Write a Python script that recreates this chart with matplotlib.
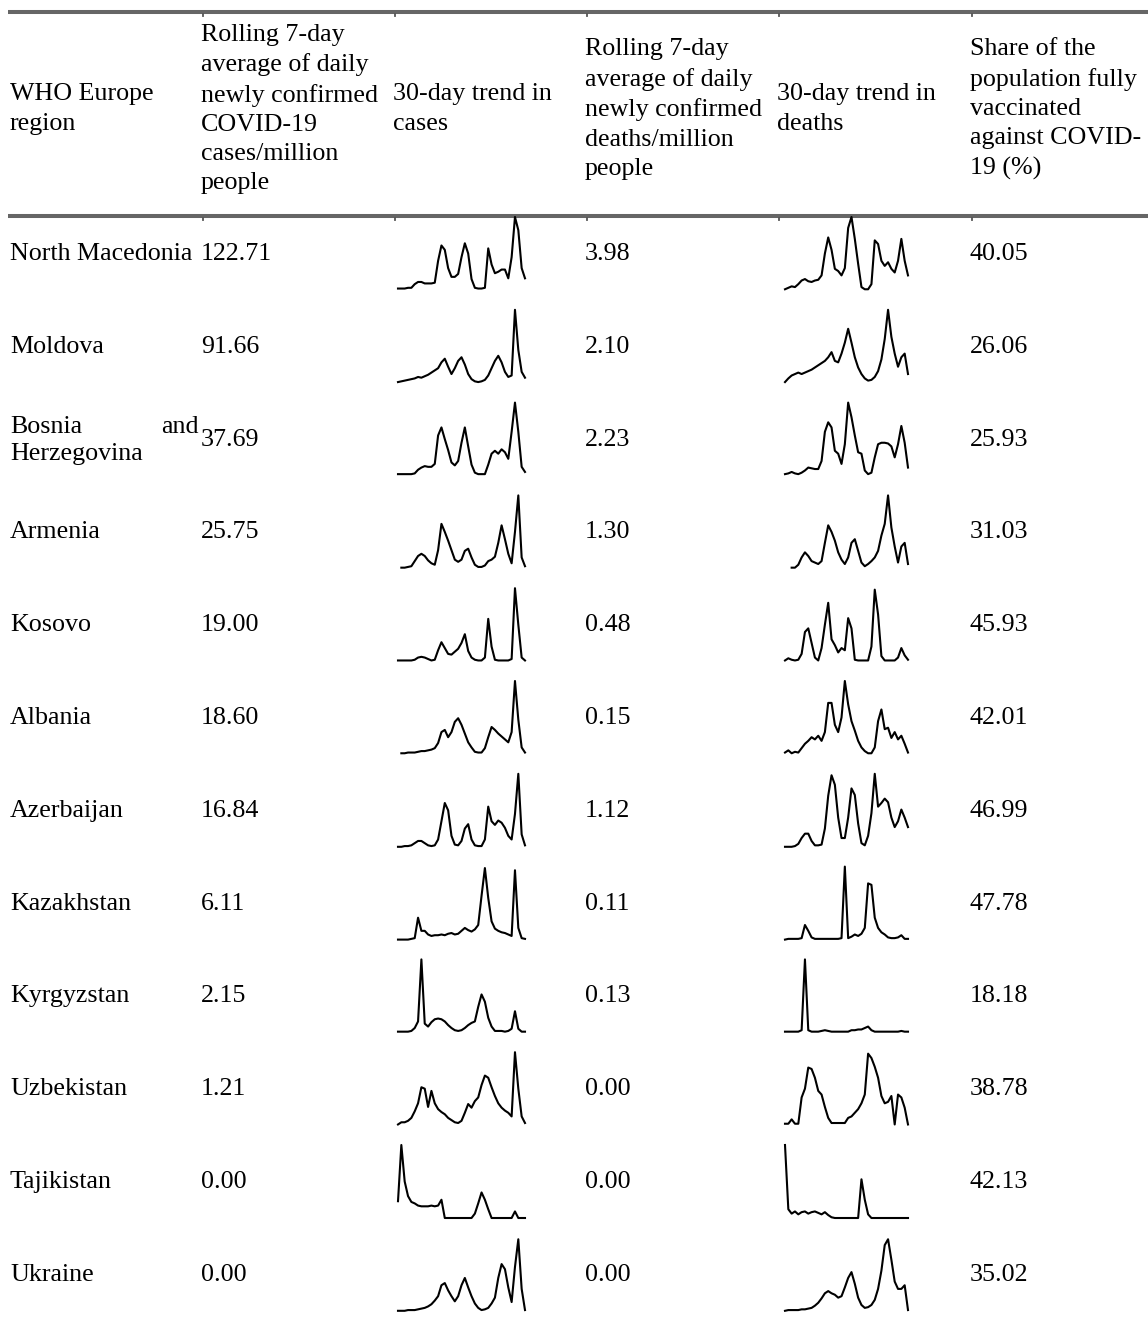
import numpy as np
import matplotlib.pyplot as plt

plt.rcParams['font.family'] = ['Liberation Serif', 'DejaVu Serif']

nan = np.nan

headers = [
    "WHO Europe\nregion",
    "Rolling 7-day\naverage of daily\nnewly confirmed\nCOVID-19\ncases/million\npeople",
    "30-day trend in\ncases",
    "Rolling 7-day\naverage of daily\nnewly confirmed\ndeaths/million\npeople",
    "30-day trend in\ndeaths",
    "Share of the\npopulation fully\nvaccinated\nagainst COVID-\n19 (%)",
]

countries = ["North Macedonia", "Moldova", "Bosnia and Herzegovina", "Armenia",
             "Kosovo", "Albania", "Azerbaijan", "Kazakhstan", "Kyrgyzstan",
             "Uzbekistan", "Tajikistan", "Ukraine"]
cases_avg = [122.71, 91.66, 37.69, 25.75, 19.00, 18.60, 16.84, 6.11, 2.15, 1.21, 0.00, 0.00]
deaths_avg = [3.98, 2.10, 2.23, 1.30, 0.48, 0.15, 1.12, 0.11, 0.13, 0.00, 0.00, 0.00]
vaccinated = [40.05, 26.06, 25.93, 31.03, 45.93, 42.01, 46.99, 47.78, 18.18, 38.78, 42.13, 35.02]

# 30-day trends (0 = lowest, 100 = highest)
nmk_cases = [2, 2, 2, 3, 3, 8, 11, 11, 9, 9, 9, 10, 40, 61, 55, 30, 18, 18, 22, 45,
             64, 50, 15, 3, 2, 2, 3, 57, 35, 23, 25, 28, 28, 16, 45, 100, 82, 30, 16]
mda_cases = [1, 2, 3, 4, 5, 6, 8, 7, 9, 11, 14, 17, 20, 28, 33, 22, 12, 20, 30, 35,
             25, 12, 5, 2, 1, 2, 4, 10, 20, 30, 37, 28, 15, 8, 10, 100, 45, 15, 7]
bih_cases = [2, 2, 2, 2, 2, 3, 8, 11, 13, 12, 12, 16, 55, 66, 50, 35, 18, 14, 20, 45,
             66, 40, 15, 4, 2, 2, 2, 15, 30, 34, 30, 36, 32, 23, 60, 100, 60, 12, 5]
arm_cases = [nan, 1, 1, 2, 3, 10, 17, 20, 17, 11, 7, 5, 25, 61, 50, 38, 25, 12, 9, 12,
             24, 27, 15, 5, 2, 2, 4, 10, 12, 16, 35, 59, 40, 20, 7, 50, 100, 15, 3]
xkx_cases = [1, 1, 1, 1, 1, 2, 5, 6, 5, 3, 1, 2, 15, 26, 18, 10, 9, 13, 17, 25,
             37, 14, 5, 2, 1, 1, 5, 58, 20, 2, 1, 1, 1, 1, 3, 100, 50, 5, 1]
alb_cases = [nan, 1, 1, 2, 2, 2, 3, 4, 4, 5, 6, 8, 15, 30, 33, 23, 30, 44, 49, 40,
             28, 16, 9, 3, 2, 2, 8, 23, 37, 33, 28, 24, 20, 16, 30, 100, 47, 9, 2]
aze_cases = [0, 0, 1, 1, 2, 5, 8, 8, 5, 2, 1, 2, 10, 35, 60, 50, 15, 3, 2, 8,
             25, 31, 10, 2, 1, 1, 10, 55, 35, 30, 36, 33, 26, 15, 10, 45, 100, 17, 2]
kaz_cases = [0, 0, 0, 0, 1, 2, 30, 12, 12, 7, 5, 6, 6, 7, 6, 8, 9, 7, 8, 12,
             16, 13, 11, 14, 20, 60, 98, 57, 25, 15, 12, 10, 9, 7, 5, 95, 16, 2, 1]
kgz_cases = [1, 1, 1, 1, 2, 6, 15, 100, 12, 8, 14, 18, 19, 18, 15, 10, 6, 3, 2, 3,
             6, 10, 13, 15, 35, 52, 42, 20, 8, 2, 2, 2, 1, 2, 5, 29, 5, 1, 1]
uzb_cases = [1, 4, 4, 6, 10, 19, 30, 52, 50, 25, 47, 30, 22, 18, 15, 10, 7, 4, 3, 6,
             17, 29, 24, 33, 38, 55, 68, 65, 52, 40, 30, 24, 20, 17, 12, 100, 50, 12, 3]
tjk_cases = [23, 100, 50, 30, 22, 20, 17, 16, 16, 16, 17, 16, 17, 25, 0, 0, 0, 0, 0, 0,
             0, 0, 0, 6, 20, 35, 25, 12, 0, 0, 0, 0, 0, 0, 0, 9, 0, 0, 0]
ukr_cases = [0, 0, 0, 1, 1, 1, 2, 3, 4, 6, 9, 14, 20, 35, 38, 28, 20, 13, 20, 35,
             45, 32, 20, 10, 4, 1, 2, 4, 10, 18, 45, 64, 57, 32, 12, 60, 98, 30, 1]

nmk_deaths = [1, 3, 5, 4, 8, 13, 15, 12, 11, 13, 14, 20, 50, 72, 55, 29, 26, 20, 30, 85,
              100, 70, 36, 4, 1, 1, 8, 68, 63, 40, 33, 38, 29, 24, 40, 70, 40, 20]
mda_deaths = [1, 6, 10, 12, 14, 12, 14, 16, 18, 21, 24, 27, 30, 35, 42, 30, 28, 40, 55, 74,
              55, 35, 21, 12, 6, 3, 4, 8, 16, 32, 60, 100, 63, 40, 22, 35, 40, 12]
bih_deaths = [2, 3, 5, 3, 2, 4, 7, 11, 10, 9, 9, 20, 60, 73, 66, 34, 30, 16, 43, 100,
              80, 55, 32, 30, 7, 2, 4, 25, 43, 45, 45, 44, 40, 25, 43, 68, 45, 11]
arm_deaths = [nan, nan, 1, 1, 5, 15, 22, 17, 10, 8, 6, 10, 35, 59, 50, 38, 22, 12, 6, 15,
              35, 40, 24, 8, 3, 6, 10, 15, 24, 45, 61, 100, 56, 30, 8, 30, 35, 6]
xkx_deaths = [1, 4, 2, 1, 2, 10, 40, 45, 25, 5, 1, 18, 50, 80, 30, 22, 12, 18, 15, 59,
              45, 2, 1, 1, 1, 1, 20, 98, 64, 7, 1, 1, 1, 1, 5, 18, 8, 2]
alb_deaths = [2, 5, 1, 3, 2, 8, 14, 18, 23, 20, 25, 18, 30, 70, 70, 40, 30, 50, 100, 68,
              45, 32, 18, 9, 4, 1, 1, 9, 45, 61, 34, 36, 22, 30, 20, 25, 14, 2]
aze_deaths = [0, 0, 0, 1, 4, 12, 18, 18, 8, 2, 2, 3, 25, 70, 98, 85, 40, 12, 12, 40,
              80, 71, 32, 5, 2, 15, 46, 100, 55, 60, 66, 61, 40, 27, 35, 51, 40, 27]
kaz_deaths = [0, 1, 1, 1, 1, 2, 20, 12, 3, 1, 1, 1, 1, 1, 1, 1, 1, 2, 100, 2,
              4, 7, 5, 8, 16, 77, 75, 30, 16, 10, 7, 3, 2, 2, 3, 6, 1, 1]
kgz_deaths = [1, 1, 1, 1, 1, 3, 100, 3, 1, 1, 1, 2, 3, 2, 1, 1, 1, 1, 1, 1,
              3, 3, 4, 4, 6, 8, 3, 1, 1, 1, 1, 1, 1, 1, 1, 2, 1, 1]
uzb_deaths = [2, 2, 8, 2, 2, 38, 50, 79, 77, 65, 47, 42, 25, 10, 3, 3, 3, 3, 3, 10,
              12, 17, 22, 30, 42, 98, 92, 80, 65, 40, 30, 32, 40, 1, 42, 38, 24, 1]
tjk_deaths = [100, 12, 6, 9, 5, 8, 9, 6, 8, 9, 7, 5, 8, 4, 1, 0, 0, 0, 0, 0,
              0, 0, 0, 53, 25, 5, 0, 0, 0, 0, 0, 0, 0, 0, 0, 0, 0, 0]
ukr_deaths = [0, 1, 1, 1, 1, 2, 2, 3, 4, 7, 11, 17, 24, 27, 24, 22, 18, 20, 32, 45,
              53, 37, 18, 8, 4, 5, 8, 15, 30, 55, 90, 98, 70, 40, 30, 30, 35, 1]

cases_trends = [nmk_cases, mda_cases, bih_cases, arm_cases, xkx_cases, alb_cases,
                aze_cases, kaz_cases, kgz_cases, uzb_cases, tjk_cases, ukr_cases]
deaths_trends = [nmk_deaths, mda_deaths, bih_deaths, arm_deaths, xkx_deaths, alb_deaths,
                 aze_deaths, kaz_deaths, kgz_deaths, uzb_deaths, tjk_deaths, ukr_deaths]

W, H = 1148, 1325
fig = plt.figure(figsize=(W / 100, H / 100), dpi=100)
ax = fig.add_axes([0, 0, 1, 1])
ax.set_xlim(0, W)
ax.set_ylim(H, 0)
ax.axis('off')

FS = 18.7
col_x = [10, 201, 393, 585, 777, 970]

# header
for x, h in zip(col_x, headers):
    ax.text(x, 109, h, fontsize=FS, ha='left', va='center', linespacing=1.42)

for y in [12, 216]:
    ax.plot([8, W], [y, y], color='#666666', lw=2.9, solid_capstyle='butt')
    for x in col_x[1:]:
        ax.plot([x + 2, x + 2], [y + 2, y + 4], color='#555555', lw=1.3)


def sparkline(x0, x1, yc, vals):
    a = fig.add_axes([x0 / W, 1 - (yc + 36) / H, (x1 - x0) / W, 73 / H])
    a.plot(np.linspace(0, 1, len(vals)), vals, color='black', lw=1.5, clip_on=False)
    a.set_xlim(0, 1)
    a.set_ylim(0, 100)
    a.axis('off')


for i, name in enumerate(countries):
    yc = 254 + 92.8 * i
    if name == "Bosnia and Herzegovina":
        ax.text(10, yc - 13, "Bosnia", fontsize=FS, ha='left', va='center')
        ax.text(199, yc - 13, "and", fontsize=FS, ha='right', va='center')
        ax.text(10, yc + 14, "Herzegovina", fontsize=FS, ha='left', va='center')
    else:
        ax.text(10, yc, name, fontsize=FS, ha='left', va='center')
    ax.text(201, yc, f"{cases_avg[i]:.2f}", fontsize=FS, ha='left', va='center')
    ax.text(585, yc, f"{deaths_avg[i]:.2f}", fontsize=FS, ha='left', va='center')
    ax.text(970, yc, f"{vaccinated[i]:.2f}", fontsize=FS, ha='left', va='center')
    sparkline(398, 525, yc, cases_trends[i])
    sparkline(785, 908, yc, deaths_trends[i])

fig.savefig("out.png", dpi=100)
